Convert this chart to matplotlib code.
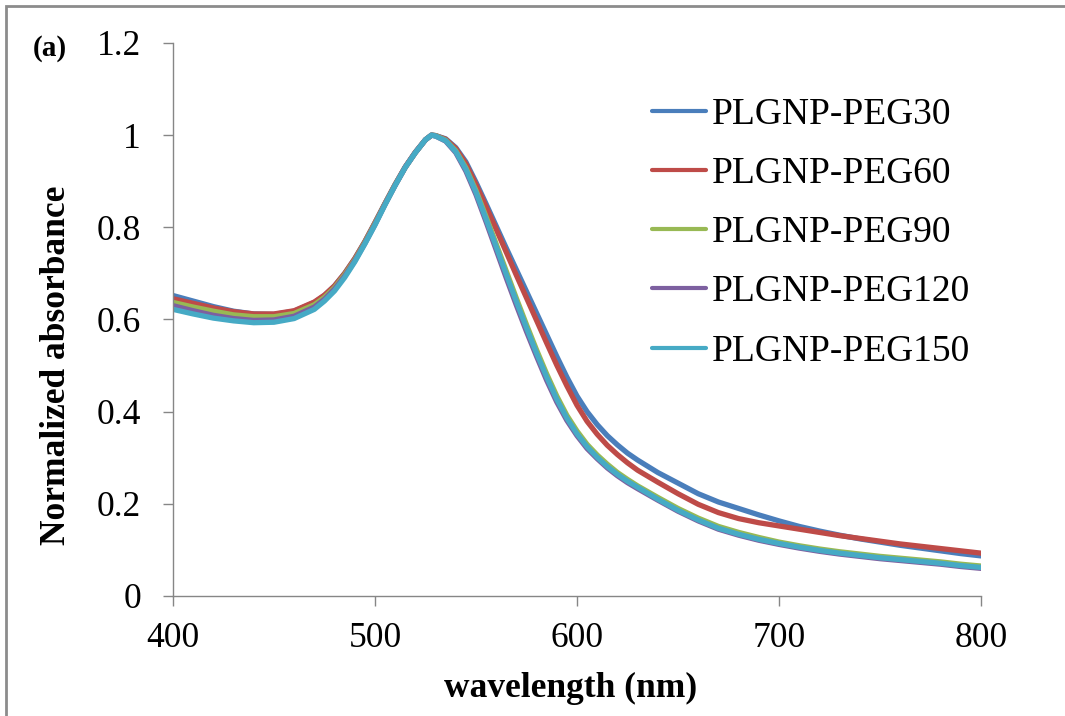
import matplotlib
matplotlib.use("Agg")
import matplotlib.pyplot as plt
from matplotlib.patches import Rectangle

# wavelength grid (nm)
wavelength = [400, 410, 420, 430, 440, 450, 460,
              470, 475, 480, 485, 490, 495, 500, 505, 510, 515, 520, 525, 528, 530,
              535, 540, 545, 550, 555, 560, 565, 570, 575, 580, 585, 590, 595, 600,
              605, 610, 615, 620, 625, 630,
              640, 650, 660, 670, 680, 690, 700, 710, 720, 730, 740, 750, 760, 770,
              780, 790, 800]

peg30 = [0.652, 0.640, 0.628, 0.618, 0.612, 0.611, 0.618,
         0.637, 0.652, 0.673, 0.700, 0.732, 0.769, 0.810, 0.852, 0.893, 0.931, 0.963, 0.990, 1.000, 0.999,
         0.992, 0.973, 0.942, 0.898, 0.851, 0.803, 0.755, 0.708, 0.661, 0.614, 0.567, 0.520, 0.475, 0.434,
         0.400, 0.372, 0.348, 0.328, 0.310, 0.295,
         0.268, 0.245, 0.222, 0.204, 0.190, 0.176, 0.163, 0.151, 0.141, 0.132, 0.124, 0.117, 0.110, 0.104,
         0.098, 0.092, 0.087]

peg60 = [0.645, 0.635, 0.625, 0.617, 0.612, 0.612, 0.619,
         0.638, 0.653, 0.673, 0.700, 0.732, 0.769, 0.810, 0.852, 0.893, 0.931, 0.963, 0.990, 1.000, 0.999,
         0.991, 0.971, 0.938, 0.893, 0.845, 0.796, 0.746, 0.696, 0.647, 0.598, 0.549, 0.501, 0.456, 0.414,
         0.379, 0.351, 0.327, 0.307, 0.289, 0.273,
         0.247, 0.222, 0.199, 0.181, 0.168, 0.159, 0.152, 0.145, 0.138, 0.131, 0.125, 0.119, 0.113, 0.108,
         0.103, 0.098, 0.093]

peg90 = [0.637, 0.627, 0.618, 0.610, 0.606, 0.606, 0.613,
         0.632, 0.648, 0.669, 0.697, 0.729, 0.767, 0.808, 0.851, 0.892, 0.930, 0.962, 0.990, 1.000, 0.999,
         0.989, 0.966, 0.929, 0.880, 0.823, 0.764, 0.705, 0.646, 0.589, 0.534, 0.482, 0.434, 0.392, 0.358,
         0.329, 0.306, 0.286, 0.268, 0.253, 0.239,
         0.214, 0.190, 0.169, 0.151, 0.138, 0.127, 0.117, 0.109, 0.102, 0.096, 0.091, 0.086, 0.082, 0.078,
         0.074, 0.069, 0.065]

peg120 = [0.630, 0.619, 0.609, 0.602, 0.598, 0.599, 0.607,
          0.627, 0.644, 0.666, 0.694, 0.727, 0.765, 0.806, 0.850, 0.891, 0.930, 0.962, 0.990, 1.000, 0.998,
          0.987, 0.962, 0.922, 0.871, 0.812, 0.751, 0.690, 0.631, 0.574, 0.520, 0.468, 0.421, 0.381, 0.348,
          0.320, 0.298, 0.278, 0.261, 0.246, 0.233,
          0.208, 0.184, 0.163, 0.145, 0.132, 0.121, 0.112, 0.104, 0.097, 0.091, 0.086, 0.081, 0.077, 0.073,
          0.069, 0.064, 0.060]

peg150 = [0.622, 0.612, 0.603, 0.597, 0.593, 0.594, 0.602,
          0.622, 0.640, 0.662, 0.691, 0.725, 0.764, 0.805, 0.849, 0.891, 0.930, 0.962, 0.990, 1.000, 0.998,
          0.988, 0.964, 0.926, 0.876, 0.818, 0.758, 0.698, 0.639, 0.582, 0.527, 0.475, 0.427, 0.386, 0.352,
          0.324, 0.301, 0.281, 0.264, 0.249, 0.236,
          0.210, 0.186, 0.165, 0.147, 0.134, 0.123, 0.114, 0.106, 0.099, 0.093, 0.088, 0.083, 0.079, 0.075,
          0.071, 0.066, 0.062]

labels = ['PLGNP-PEG30', 'PLGNP-PEG60', 'PLGNP-PEG90', 'PLGNP-PEG120', 'PLGNP-PEG150']
colors = ['#4A7EBB', '#BE4B48', '#98B954', '#7D60A0', '#46AAC5']
series = [peg30, peg60, peg90, peg120, peg150]

plt.rcParams['font.family'] = ['Liberation Serif', 'DejaVu Serif']

fig = plt.figure(figsize=(10.65, 7.16), dpi=100)
ax = fig.add_axes([0.1624, 0.1676, 0.7587, 0.7724])

for y, lab, c in zip(series, labels, colors):
    ax.plot(wavelength, y, color=c, linewidth=3.8, label=lab,
            solid_capstyle='round', solid_joinstyle='round')

ax.set_xlim(400, 800)
ax.set_ylim(0, 1.2)
ax.set_xticks([400, 500, 600, 700, 800])
ax.set_yticks([0, 0.2, 0.4, 0.6, 0.8, 1.0, 1.2])
ax.set_yticklabels(['0', '0.2', '0.4', '0.6', '0.8', '1', '1.2'])

for s in ['top', 'right']:
    ax.spines[s].set_visible(False)
for s in ['left', 'bottom']:
    ax.spines[s].set_color('#868686')
    ax.spines[s].set_linewidth(1.0)
ax.tick_params(axis='both', direction='out', length=7, width=1.0, color='#868686', labelsize=25.5)
ax.tick_params(axis='y', pad=16)
ax.tick_params(axis='x', pad=12)

ax.set_xlabel('wavelength (nm)', fontsize=25.5, fontweight='bold')
ax.set_ylabel('Normalized absorbance', fontsize=25.5, fontweight='bold')
ax.xaxis.set_label_coords(0.4926, -0.137)
ax.yaxis.set_label_coords(-0.1238, 0.418)

leg = ax.legend(loc='upper left', bbox_to_anchor=(0.593, 0.902), frameon=False, fontsize=27,
                handlelength=1.44, handletextpad=0.16, labelspacing=0.66,
                borderpad=0, borderaxespad=0)
for h in leg.get_lines():
    h.set_linewidth(3.0)

fig.text(33 / 1065, 1 - 48 / 716, '(a)', fontsize=21, fontweight='bold', va='center', ha='left')

# figure frame, cut off at the right/bottom like the source
fig.add_artist(Rectangle((6 / 1065, -0.2), 1.5, 1.2 - 6 / 716,
                         transform=fig.transFigure, fill=False,
                         edgecolor='#8c8c8c', linewidth=2.0))

fig.savefig('out.png', dpi=100)
